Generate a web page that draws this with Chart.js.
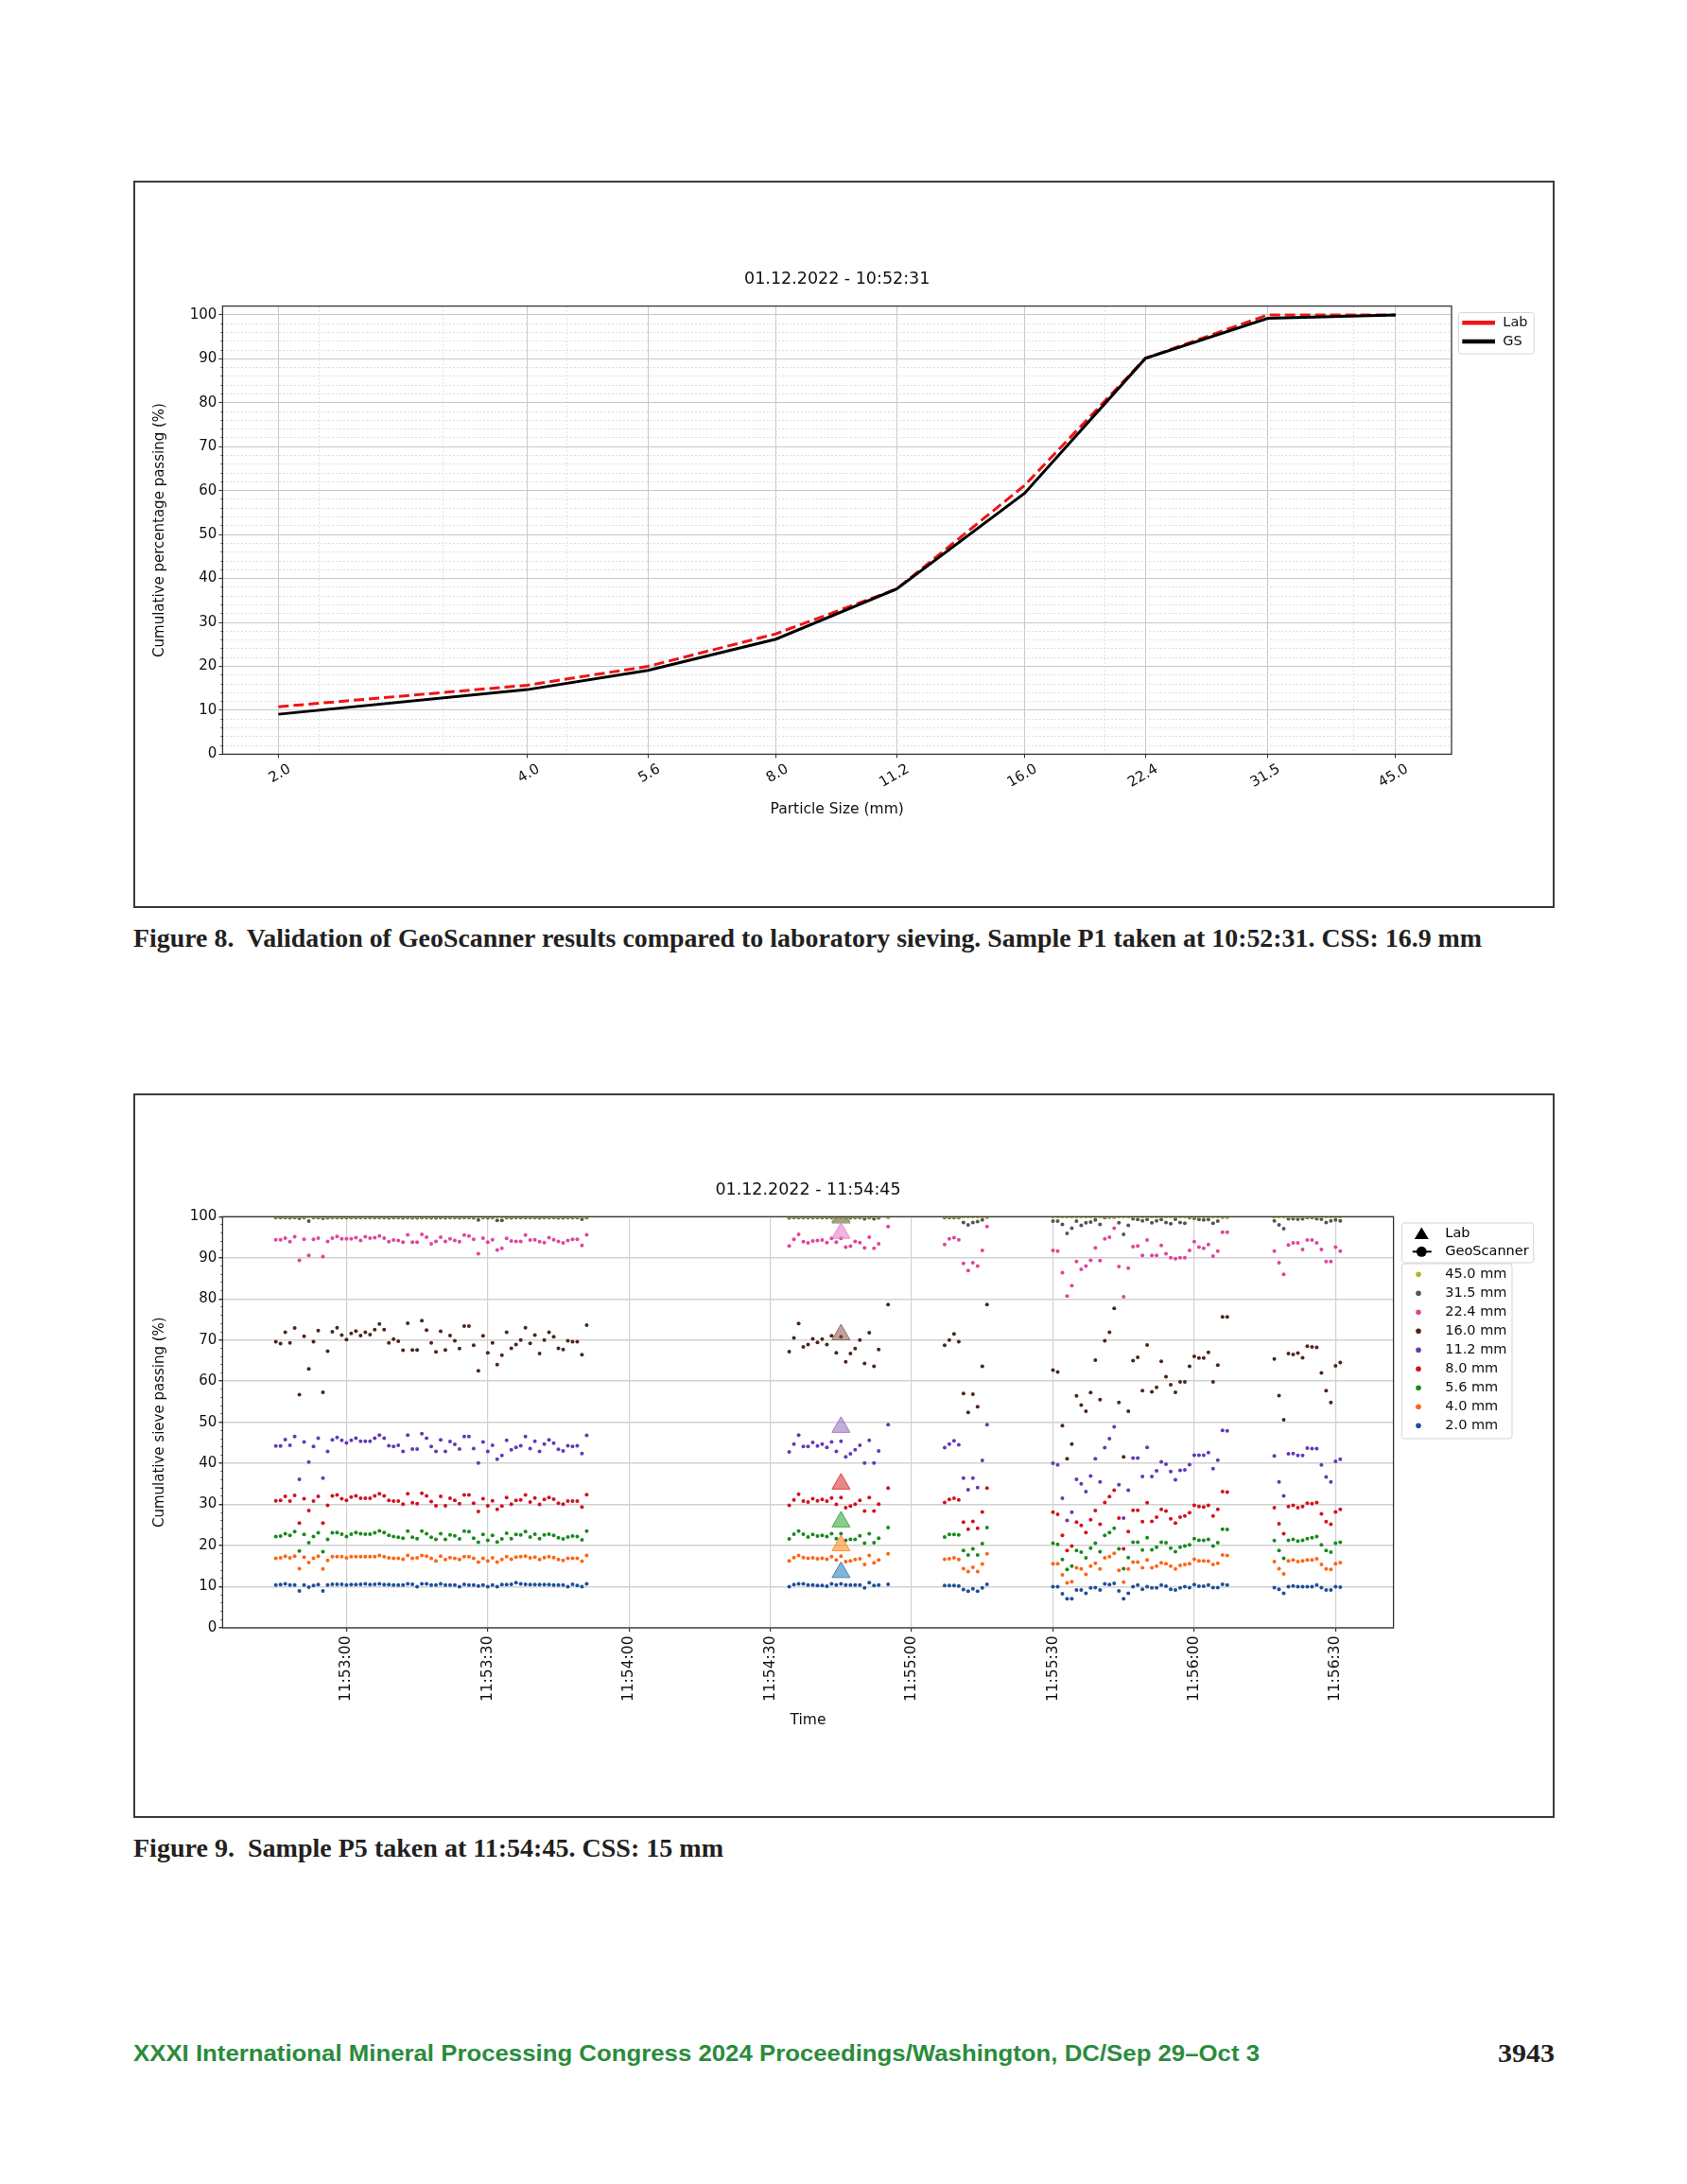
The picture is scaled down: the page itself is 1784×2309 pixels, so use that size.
<!DOCTYPE html>
<html>
<head>
<meta charset="utf-8">
<script src="https://cdn.jsdelivr.net/npm/chart.js@4.4.1/dist/chart.umd.min.js"></script>
<style>
  body { margin: 0; background: #fff; width: 1784px; height: 2309px; position: relative; overflow: hidden; }
  .frame { position: absolute; left: 141px; width: 1499px; border: 2px solid #3a3a3a; }
  #frame8 { top: 191px; height: 765px; }
  #frame9 { top: 1156px; height: 762px; }
  canvas { position: absolute; }
  .cap { position: absolute; white-space: pre; transform-origin: 0 0; color: #231f20;
         font-family: "Liberation Serif", "DejaVu Serif", serif; font-weight: bold; font-size: 27px; line-height: 30px; }
  .foot { position: absolute; white-space: pre; transform-origin: 0 0; color: #2a8c3c;
          font-family: "Liberation Sans Narrow", "Liberation Sans", sans-serif; font-weight: bold; font-size: 24px; line-height: 28px; }
</style>
</head>
<body>
<div class="frame" id="frame8"></div>
<div class="frame" id="frame9"></div>
<canvas id="fig8" width="1499" height="765" style="left:143px;top:193px"></canvas>
<canvas id="fig9" width="1499" height="762" style="left:143px;top:1158px"></canvas>

<div class="cap" style="left:141px;top:977px" data-w="1426">Figure 8.  Validation of GeoScanner results compared to laboratory sieving. Sample P1 taken at 10:52:31. CSS: 16.9 mm</div>
<div class="cap" style="left:141px;top:1939px" data-w="624">Figure 9.  Sample P5 taken at 11:54:45. CSS: 15 mm</div>
<div class="foot" style="left:141px;top:2157px" data-w="1191">XXXI International Mineral Processing Congress 2024 Proceedings/Washington, DC/Sep 29–Oct 3</div>
<div class="cap" style="left:1584px;top:2156px" data-w="60">3943</div>

<script>
// ---------- Figure 8: sieve curve ----------
const sieveSizes = [2.0, 4.0, 5.6, 8.0, 11.2, 16.0, 22.4, 31.5, 45.0];
const sieveLabels = ['2.0', '4.0', '5.6', '8.0', '11.2', '16.0', '22.4', '31.5', '45.0'];
const labPassing = [10.8, 15.7, 20.0, 27.4, 37.6, 61.2, 90.1, 100.0, 100.0];
const gsPassing = [9.1, 14.7, 19.1, 26.2, 37.6, 59.4, 90.1, 99.2, 100.0];
const passTicks = [0, 10, 20, 30, 40, 50, 60, 70, 80, 90, 100];

// ---------- Figure 9: GeoScanner time series ----------
const sieveNames = ['45.0 mm', '31.5 mm', '22.4 mm', '16.0 mm', '11.2 mm', '8.0 mm', '5.6 mm', '4.0 mm', '2.0 mm'];
const timeTicks = ['11:53:00', '11:53:30', '11:54:00', '11:54:30', '11:55:00', '11:55:30', '11:56:00', '11:56:30'];
const labTime = '11:54:45';
const labValues = [100.0, 99.7, 96.0, 71.3, 48.8, 35.0, 25.8, 20.0, 13.5];

const times = [
  '11:52:45','11:52:46','11:52:47','11:52:48','11:52:49','11:52:50','11:52:51','11:52:52','11:52:53','11:52:54',
  '11:52:55','11:52:56','11:52:57','11:52:58','11:52:59','11:53:00','11:53:01','11:53:02','11:53:03','11:53:04',
  '11:53:05','11:53:06','11:53:07','11:53:08','11:53:09','11:53:10','11:53:11','11:53:12','11:53:13','11:53:14',
  '11:53:15','11:53:16','11:53:17','11:53:18','11:53:19','11:53:20','11:53:21','11:53:22','11:53:23','11:53:24',
  '11:53:25','11:53:26','11:53:27','11:53:28','11:53:29','11:53:30','11:53:31','11:53:32','11:53:33','11:53:34',
  '11:53:35','11:53:36','11:53:37','11:53:38','11:53:39','11:53:40','11:53:41','11:53:42','11:53:43','11:53:44',
  '11:53:45','11:53:46','11:53:47','11:53:48','11:53:49','11:53:50','11:53:51',
  '11:54:34','11:54:35','11:54:36','11:54:37','11:54:38','11:54:39','11:54:40','11:54:41','11:54:42','11:54:43',
  '11:54:44','11:54:45','11:54:46','11:54:47','11:54:48','11:54:49','11:54:50','11:54:51','11:54:52','11:54:53','11:54:55',
  '11:55:07','11:55:08','11:55:09','11:55:10','11:55:11','11:55:12','11:55:13','11:55:14','11:55:15','11:55:16',
  '11:55:30','11:55:31','11:55:32','11:55:33','11:55:34','11:55:35','11:55:36','11:55:37','11:55:38','11:55:39',
  '11:55:40','11:55:41','11:55:42','11:55:43','11:55:44','11:55:45','11:55:46','11:55:47','11:55:48','11:55:49',
  '11:55:50','11:55:51','11:55:52','11:55:53','11:55:54','11:55:55','11:55:56','11:55:57','11:55:58','11:55:59',
  '11:56:00','11:56:01','11:56:02','11:56:03','11:56:04','11:56:05','11:56:06','11:56:07',
  '11:56:17','11:56:18','11:56:19','11:56:20','11:56:21','11:56:22','11:56:23','11:56:24','11:56:25','11:56:26',
  '11:56:27','11:56:28','11:56:29','11:56:30','11:56:31'
];

const p450 = [
  100,100,100,100,100,100,100,100,100,100, 100,100,100,100,100,100,100,100,100,100,
  100,100,100,100,100,100,100,100,100,100, 100,100,100,100,100,100,100,100,100,100,
  100,100,100,100,100,100,100,100,100,100, 100,100,100,100,100,100,100,100,100,100,
  100,100,100,100,100,100,100,
  100,100,100,100,100,100,100,100,100,100, 100,100,100,100,100,100,100,100,100,100,100,
  100,100,100,100,100,100,100,100,100,100,
  100,100,100,100,100,100,100,100,100,100, 100,100,100,100,100,100,100,100,100,100,
  100,100,100,100,100,100,100,100,100,100, 100,100,100,100,100,100,100,100,
  100,100,100,100,100,100,100,100,100,100, 100,100,100,100,100
];
const p315 = [
  99.8,99.8,99.8,99.7,99.8,99.6,99.8,98.9,99.8,99.8, 99.6,99.7,99.8,99.8,99.8,99.8,99.8,99.8,99.8,99.8,
  99.8,99.8,99.8,99.8,99.7,99.8,99.8,99.7,99.8,99.7, 99.7,99.8,99.8,99.7,99.7,99.8,99.7,99.8,99.8,99.7,
  99.8,99.8,99.7,99.2,99.8,99.7,99.8,99.1,99.1,99.8, 99.7,99.8,99.8,99.8,99.8,99.8,99.7,99.8,99.8,99.8,
  99.7,99.7,99.8,99.8,99.8,99.4,99.8,
  99.7,99.8,99.8,99.8,99.8,99.8,99.8,99.8,99.8,99.8, 99.7,99.8,99.6,99.7,99.8,99.8,99.5,99.8,99.5,99.7,99.9,
  99.8,99.8,99.8,99.8,98.6,98.0,98.6,98.8,99.2,99.9,
  98.9,98.9,98.1,95.9,97.2,98.9,97.9,98.5,98.7,99.2, 98.1,99.8,99.9,99.9,98.5,95.7,97.9,99.5,99.3,99.0,
  99.3,98.5,99.0,99.3,98.6,98.3,99.4,98.6,98.4,99.8, 99.6,99.3,99.2,99.3,98.4,98.9,99.9,99.9,
  99.0,98.0,97.1,99.5,99.5,99.4,99.5,99.8,99.8,99.5, 99.4,98.6,99.0,99.2,99.0
];
const p224 = [
  94.4,94.4,94.8,93.9,95.1,89.4,94.5,90.6,94.5,94.8, 90.3,94.0,94.8,95.2,94.6,94.6,94.6,94.9,94.2,95.1,
  94.8,94.9,95.3,94.8,93.9,94.3,94.2,93.8,95.6,93.8, 93.8,95.7,95.0,93.4,94.0,95.0,94.0,94.6,94.2,93.9,
  95.5,95.3,94.5,91.0,94.8,93.8,94.4,91.9,92.3,94.7, 94.1,94.0,94.0,95.5,94.3,94.4,93.9,93.7,94.9,94.4,
  94.0,93.6,94.2,94.5,94.5,93.0,95.6,
  92.9,94.5,95.7,93.9,93.6,94.1,94.2,94.3,93.7,94.7, 93.8,94.7,92.6,92.8,94.0,93.7,92.4,95.0,92.3,93.4,97.6,
  93.2,94.6,94.9,94.4,88.6,86.9,88.8,88.0,91.8,97.6,
  91.8,91.6,86.4,80.7,83.2,89.1,87.2,88.0,89.4,92.4, 89.3,94.6,95.0,97.2,87.9,80.5,87.5,92.7,92.9,90.6,
  94.3,90.6,90.6,93.0,91.0,90.0,89.8,90.0,90.0,91.8, 93.9,92.6,92.3,93.2,90.4,91.6,96.2,96.2,
  91.6,88.8,86.0,93.1,93.6,93.6,92.0,94.3,94.3,93.6, 92.0,89.1,89.1,92.6,91.6
];
const p160 = [
  69.6,69.1,71.9,69.3,72.9,56.7,70.9,63.0,69.6,72.3, 57.3,67.3,72.0,73.0,71.2,70.1,71.6,72.2,71.1,71.9,
  71.3,72.5,73.9,72.5,69.3,70.2,69.7,67.5,74.1,67.6, 67.6,74.7,72.4,69.3,67.1,72.1,67.6,71.1,69.8,67.9,
  73.4,73.4,68.7,62.5,71.0,66.9,69.3,64.0,66.3,71.9, 68.0,68.9,70.0,73.0,69.2,71.2,66.7,70.0,71.9,70.8,
  68.0,67.7,69.8,69.6,69.6,66.4,73.6,
  67.2,70.5,74.0,68.3,68.9,70.3,69.4,70.2,68.9,71.0, 66.9,70.8,64.7,66.7,67.9,70.0,64.3,71.8,63.6,67.7,78.6,
  68.7,70.0,71.5,69.6,57.0,52.4,56.8,53.8,63.6,78.6,
  62.7,62.2,49.2,41.1,44.7,56.4,54.2,52.7,57.2,65.1, 55.5,69.8,71.9,77.7,54.8,41.6,52.7,65.0,65.8,57.7,
  68.8,57.4,58.5,64.8,61.1,59.1,57.3,59.8,59.8,63.6, 66.0,65.6,65.6,67.0,59.8,63.9,75.6,75.6,
  65.4,56.5,50.6,66.7,66.5,66.8,65.7,68.5,68.3,68.2, 62.0,57.7,54.8,63.7,64.5
];
const p112 = [
  44.2,44.2,45.8,44.4,46.5,36.1,45.2,40.3,44.1,46.1, 36.4,42.9,45.7,46.3,45.6,45.0,45.6,46.1,45.4,45.4,
  45.4,46.1,46.9,46.1,44.3,44.1,44.4,42.9,46.9,43.5, 43.5,47.2,46.1,44.1,42.9,45.7,42.9,45.3,44.6,43.5,
  46.5,46.5,43.6,40.1,45.2,42.9,44.4,41.0,41.9,45.6, 43.3,43.9,44.3,46.5,43.6,45.4,42.9,44.7,45.7,44.9,
  43.4,43.0,44.3,44.1,44.3,42.4,46.8,
  42.8,44.7,46.9,44.1,44.1,45.1,44.2,44.7,43.9,45.2, 42.9,45.4,41.6,42.3,43.3,44.4,40.1,45.6,40.1,43.0,49.4,
  43.8,44.7,45.5,44.5,36.4,33.6,36.4,34.1,40.7,49.4,
  40.0,39.6,31.5,26.1,28.1,36.1,35.0,33.1,36.9,41.1, 35.5,43.8,46.0,48.9,34.8,26.7,33.5,41.3,41.3,36.8,
  43.9,36.8,38.2,40.4,39.8,38.0,36.0,38.3,38.4,39.7, 42.0,42.0,42.0,42.6,38.7,40.8,48.0,47.9,
  41.8,35.5,32.1,42.3,42.4,41.9,41.9,43.7,43.6,43.6, 39.6,36.7,35.5,40.5,41.0
];
const p80 = [
  30.9,31.0,32.0,30.8,32.2,25.5,31.4,28.5,30.8,32.0, 25.5,29.8,32.1,32.3,31.4,31.0,31.8,32.1,31.5,31.5,
  31.5,32.1,32.6,32.1,31.0,30.8,30.8,30.1,32.6,30.4, 30.2,32.7,32.1,30.7,29.7,32.0,29.7,31.5,31.0,30.2,
  32.3,32.3,30.3,28.3,31.4,29.7,30.9,28.8,29.6,31.7, 30.1,31.0,31.1,32.3,30.6,31.6,30.0,31.2,31.7,31.3,
  30.3,30.1,30.8,30.8,30.8,29.4,32.4,
  29.8,31.1,32.5,30.8,30.6,31.4,30.9,31.2,30.8,31.6, 30.0,31.7,29.2,29.6,30.1,31.0,28.4,31.7,28.4,30.1,34.0,
  30.5,31.2,31.5,31.1,25.7,24.0,25.9,24.2,28.2,34.0,
  28.1,27.6,22.5,18.8,19.9,25.7,24.9,23.2,26.3,28.5, 25.2,30.5,31.9,33.5,26.7,19.2,23.4,28.6,28.6,25.8,
  30.4,25.9,26.9,28.8,28.4,26.5,25.5,26.9,27.2,28.0, 29.8,29.5,29.4,29.8,27.2,28.8,33.1,33.0,
  29.2,25.3,22.9,29.5,29.8,29.2,29.5,30.3,30.2,30.5, 27.7,25.8,25.2,28.2,28.8
];
const p56 = [
  22.2,22.3,22.9,22.5,23.4,18.7,22.7,20.7,22.2,23.1, 18.5,21.5,23.1,23.2,22.8,22.2,22.8,23.2,22.9,22.8,
  22.8,23.1,23.6,23.2,22.5,22.2,22.0,21.8,23.5,22.0, 21.7,23.5,22.9,22.0,21.5,22.9,21.5,22.6,22.4,21.6,
  23.5,23.4,21.8,20.8,22.7,21.3,22.5,20.9,21.6,23.0, 21.7,22.7,22.6,23.4,22.1,22.8,21.7,22.6,22.8,22.5,
  21.9,21.6,22.1,22.3,22.2,21.4,23.5,
  21.6,22.8,23.5,22.8,22.1,22.7,22.3,22.5,22.2,22.9, 21.7,22.9,21.3,21.5,21.5,22.4,20.6,22.9,20.7,21.8,24.4,
  22.1,22.7,22.7,22.6,18.8,17.7,19.2,17.7,20.5,24.4,
  20.6,20.3,16.6,14.2,15.0,18.8,18.4,17.0,19.4,20.6, 18.5,22.5,23.2,24.2,19.2,14.4,17.1,20.8,20.8,18.9,
  21.9,19.0,19.6,20.8,20.7,19.4,18.5,19.6,19.9,20.2, 21.7,21.3,21.3,21.5,19.9,20.7,24.0,23.9,
  21.2,18.8,16.9,21.3,21.5,21.1,21.3,21.7,21.9,22.2, 20.2,18.8,18.4,20.6,20.8
];
const p40 = [
  16.9,17.0,17.4,17.0,17.4,14.4,17.2,15.9,16.9,17.4, 14.3,16.4,17.3,17.3,17.3,17.0,17.3,17.3,17.3,17.3,
  17.3,17.3,17.6,17.3,17.0,16.9,16.9,16.7,17.6,16.9, 17.0,17.6,17.4,16.9,16.3,17.4,16.6,17.1,16.9,16.6,
  17.3,17.3,16.9,16.0,16.9,16.3,17.0,16.0,16.6,17.3, 16.7,17.2,17.3,17.4,17.0,17.2,16.6,17.1,17.3,17.1,
  16.6,16.4,16.9,16.9,16.9,16.2,17.6,
  16.3,17.1,17.6,17.1,16.9,17.0,16.8,16.9,16.7,17.3, 16.5,17.4,16.1,16.3,16.6,16.8,15.4,17.6,15.8,16.5,18.0,
  16.7,16.8,17.0,16.6,14.4,13.7,14.7,13.7,15.5,18.0,
  15.6,15.6,12.9,10.9,11.2,14.6,14.3,13.0,15.0,15.7, 14.3,17.0,17.3,18.1,14.0,11.1,14.3,16.0,16.0,14.6,
  16.5,14.6,15.0,15.8,15.6,15.0,14.3,15.2,15.4,15.6, 16.7,16.3,16.3,16.2,15.4,15.7,17.7,17.6,
  16.1,14.4,13.1,16.3,16.5,16.1,16.3,16.5,16.5,16.8, 15.4,14.3,14.2,15.6,15.9
];
const p20 = [
  10.4,10.5,10.7,10.4,10.4,9.0,10.4,9.9,10.3,10.5, 9.0,10.4,10.6,10.6,10.6,10.4,10.5,10.5,10.6,10.7,
  10.5,10.6,10.7,10.5,10.5,10.4,10.4,10.4,10.7,10.6, 10.0,10.7,10.7,10.4,10.4,10.7,10.4,10.4,10.4,10.0,
  10.6,10.4,10.4,10.2,10.4,10.0,10.4,10.0,10.5,10.5, 10.6,11.0,10.7,10.6,10.5,10.5,10.5,10.5,10.5,10.4,
  10.4,10.4,10.0,10.6,10.3,10.0,10.7,
  10.0,10.5,10.7,10.7,10.4,10.4,10.3,10.3,10.1,10.7, 10.4,10.7,10.4,10.4,10.4,10.4,9.7,11.0,10.3,10.4,10.6,
  10.3,10.3,10.3,10.2,9.3,8.9,9.5,8.9,9.7,10.6,
  10.0,10.0,8.3,7.1,7.1,9.2,9.2,8.4,9.7,9.8, 9.2,10.7,10.5,10.8,9.0,7.1,8.4,10.0,10.4,9.4,
  10.0,9.7,9.7,10.4,10.1,9.4,9.2,9.7,10.0,9.8, 10.5,10.1,10.1,10.4,9.8,9.8,10.6,10.4,
  9.8,9.4,8.4,10.0,10.2,10.0,10.0,10.0,10.0,10.4, 9.8,9.2,9.2,10.0,9.9
];
const sieveSeries = [p450, p315, p224, p160, p112, p80, p56, p40, p20];

// ---------- styling ----------
const FONT = '"DejaVu Sans", sans-serif';
Chart.defaults.font.family = FONT;
Chart.defaults.color = '#111';
const dotColors = ['#b5b52a', '#555555', '#e0449c', '#4e2519', '#6438b4', '#d3111e', '#188a1b', '#ff6413', '#1d4f9c'];
const tab10 = ['188,189,34', '127,127,127', '227,119,194', '140,86,75', '148,103,189', '214,39,40', '44,160,44', '255,127,14', '31,119,180'];
const toSec = t => { const [h, m, s] = t.split(':').map(Number); return h * 3600 + m * 60 + s; };

const spines = {
  id: 'spines',
  afterDatasetsDraw(chart) {
    const { ctx, chartArea: a } = chart;
    ctx.save();
    ctx.strokeStyle = '#333';
    ctx.lineWidth = 1.3;
    ctx.strokeRect(a.left, a.top, a.right - a.left, a.bottom - a.top);
    ctx.restore();
  }
};

function legendBox(ctx, x, y, w, h) {
  ctx.beginPath();
  ctx.roundRect(x, y, w, h, 3);
  ctx.fillStyle = 'rgba(255,255,255,0.85)';
  ctx.fill();
  ctx.strokeStyle = '#d4d4d4';
  ctx.lineWidth = 1;
  ctx.stroke();
}

const sieveLegend = {
  id: 'sieveLegend',
  afterDraw(chart) {
    const { ctx, chartArea: a } = chart;
    const x = a.right + 7.3, y = a.top + 6.9;
    ctx.save();
    legendBox(ctx, x, y, 80, 43.6);
    ctx.font = '14.5px ' + FONT;
    ctx.textBaseline = 'middle';
    chart.data.datasets.forEach((ds, i) => {
      const yy = y + 10.7 + i * 19.9;
      ctx.strokeStyle = ds.borderColor;
      ctx.lineWidth = 4.5;
      ctx.beginPath(); ctx.moveTo(x + 4, yy); ctx.lineTo(x + 38.7, yy); ctx.stroke();
      ctx.fillStyle = '#111';
      ctx.fillText(ds.label, x + 47, yy);
    });
    ctx.restore();
  }
};

const timeLegend = {
  id: 'timeLegend',
  afterDraw(chart) {
    const { ctx, chartArea: a } = chart;
    const x = a.right + 8.7, y = a.top + 6.7;
    ctx.save();
    ctx.font = '14.5px ' + FONT;
    ctx.textBaseline = 'middle';
    // marker-type box
    legendBox(ctx, x, y, 139.4, 42);
    ctx.fillStyle = '#000';
    ctx.beginPath();
    ctx.moveTo(x + 21, y + 4.5); ctx.lineTo(x + 28.5, y + 17); ctx.lineTo(x + 13.5, y + 17); ctx.closePath(); ctx.fill();
    ctx.fillText('Lab', x + 46, y + 11.3);
    ctx.strokeStyle = '#000'; ctx.lineWidth = 2;
    ctx.beginPath(); ctx.moveTo(x + 11.5, y + 30.3); ctx.lineTo(x + 31.5, y + 30.3); ctx.stroke();
    ctx.beginPath(); ctx.arc(x + 21, y + 30.3, 5.5, 0, Math.PI * 2); ctx.fill();
    ctx.fillText('GeoScanner', x + 46, y + 30.3);
    // sieve box
    const y2 = y + 43;
    legendBox(ctx, x, y2, 116.7, 185);
    sieveNames.forEach((name, i) => {
      const yy = y2 + 11.3 + i * 20;
      ctx.fillStyle = dotColors[i];
      ctx.beginPath(); ctx.arc(x + 17.7, yy, 2.8, 0, Math.PI * 2); ctx.fill();
      ctx.fillStyle = '#111';
      ctx.fillText(name, x + 46, yy);
    });
    ctx.restore();
  }
};

// ---------- Figure 8 chart ----------
new Chart(document.getElementById('fig8'), {
  type: 'line',
  data: {
    datasets: [
      { label: 'Lab', data: sieveSizes.map((x, i) => ({ x, y: labPassing[i] })),
        borderColor: '#f01414', borderWidth: 3, borderDash: [11, 5], pointRadius: 0, tension: 0, order: 1 },
      { label: 'GS', data: sieveSizes.map((x, i) => ({ x, y: gsPassing[i] })),
        borderColor: '#000000', borderWidth: 3, pointRadius: 0, tension: 0, order: 0 }
    ]
  },
  options: {
    responsive: false, animation: false, events: [],
    layout: { padding: { left: 0, top: 0, right: 107, bottom: 0 } },
    plugins: {
      legend: { display: false }, tooltip: { enabled: false },
      title: { display: true, text: '01.12.2022 - 10:52:31', fullSize: false, color: '#111',
               font: { size: 17.5, weight: 'normal' }, padding: { top: 92.1, bottom: 17.5 } }
    },
    scales: {
      x: {
        type: 'logarithmic', position: 'bottom', min: 1.712, max: 52.57,
        afterBuildTicks: s => { s.ticks = sieveSizes.map(v => ({ value: v })); },
        afterFit: s => { s.height = 160.6; },
        ticks: { autoSkip: false, minRotation: 30, maxRotation: 30, labelOffset: 12, padding: 3,
                 font: { size: 15 }, callback: (v, i) => sieveLabels[i] },
        grid: { color: '#cacaca', lineWidth: 1, tickLength: 4, tickColor: '#333' },
        border: { display: false },
        title: { display: true, text: 'Particle Size (mm)', font: { size: 15.5 }, padding: { top: 0, bottom: 93.2 } }
      },
      xMinor: {
        type: 'logarithmic', position: 'top', weight: 0, min: 1.712, max: 52.57,
        afterBuildTicks: s => { s.ticks = [2.24, 3.16, 4.47, 20, 40].map(v => ({ value: v })); },
        afterFit: s => { s.height = 0; },
        ticks: { display: false },
        grid: { color: '#e2e2e2', lineWidth: 1, drawTicks: false },
        border: { display: false, dash: [2, 2] }
      },
      y: {
        type: 'linear', position: 'left', weight: 10, min: 0, max: 102,
        afterBuildTicks: s => { s.ticks = passTicks.map(v => ({ value: v })); },
        afterFit: s => { s.width = 92.4; },
        ticks: { padding: 2, font: { size: 15 } },
        grid: { color: '#c8c8c8', lineWidth: 1, tickLength: 4, tickColor: '#333' },
        border: { display: false },
        title: { display: true, text: 'Cumulative percentage passing (%)', font: { size: 15 }, padding: { top: 17.6, bottom: 0 } }
      },
      yMinor: {
        type: 'linear', position: 'left', weight: 0, min: 0, max: 102,
        afterBuildTicks: s => {
          const t = [];
          for (let v = 2; v < 102; v += 2) if (v % 10) t.push({ value: v });
          s.ticks = t;
        },
        afterFit: s => { s.width = 0; },
        ticks: { display: false },
        grid: { color: '#dedede', lineWidth: 1, tickLength: 2, tickColor: '#555' },
        border: { display: false, dash: [2, 2] }
      }
    }
  },
  plugins: [spines, sieveLegend]
});

// ---------- Figure 9 chart ----------
const labX = toSec(labTime);
const gsSets = sieveSeries.map((vals, k) => ({
  label: sieveNames[k],
  data: vals.map((y, i) => ({ x: toSec(times[i]), y })),
  pointRadius: 2.0, pointHoverRadius: 0, pointBorderWidth: 0,
  backgroundColor: dotColors[k], borderColor: dotColors[k],
  clip: 0, order: 1
}));
new Chart(document.getElementById('fig9'), {
  type: 'scatter',
  data: {
    datasets: [
      { label: 'Lab', data: labValues.map(y => ({ x: labX, y })),
        pointStyle: 'triangle', pointRadius: 11, pointHoverRadius: 0,
        backgroundColor: tab10.map(c => `rgba(${c},0.55)`), borderColor: tab10.map(c => `rgba(${c},0.8)`),
        borderWidth: 1, clip: 0, order: 0 },
      ...gsSets
    ]
  },
  options: {
    responsive: false, animation: false, events: [],
    layout: { padding: { left: 0, top: 0, right: 168.4, bottom: 0 } },
    plugins: {
      legend: { display: false }, tooltip: { enabled: false },
      title: { display: true, text: '01.12.2022 - 11:54:45', fullSize: false, color: '#111',
               font: { size: 17.5, weight: 'normal' }, padding: { top: 89.5, bottom: 17.8 } }
    },
    scales: {
      x: {
        type: 'linear', position: 'bottom', min: 42753.7, max: 43002.3,
        afterBuildTicks: s => { s.ticks = timeTicks.map(t => ({ value: toSec(t) })); },
        afterFit: s => { s.height = 199; },
        ticks: { autoSkip: false, minRotation: 90, maxRotation: 90, padding: 4.5,
                 font: { size: 15.5 }, callback: (v, i) => timeTicks[i] },
        grid: { color: '#d2d2d2', lineWidth: 1.2, tickLength: 4, tickColor: '#333' },
        border: { display: false },
        title: { display: true, text: 'Time', font: { size: 15.5 }, padding: { top: 0, bottom: 91.7 } }
      },
      y: {
        type: 'linear', position: 'left', weight: 10, min: 0, max: 100,
        afterBuildTicks: s => { s.ticks = passTicks.map(v => ({ value: v })); },
        afterFit: s => { s.width = 92.4; },
        ticks: { padding: 2, font: { size: 15 } },
        grid: { color: '#d2d2d2', lineWidth: 1.4, tickLength: 4, tickColor: '#333' },
        border: { display: false },
        title: { display: true, text: 'Cumulative sieve passing (%)', font: { size: 15 }, padding: { top: 17.6, bottom: 0 } }
      },
      yMinor: {
        type: 'linear', position: 'left', weight: 0, min: 0, max: 100,
        afterBuildTicks: s => {
          const t = [];
          for (let v = 2; v < 100; v += 2) if (v % 10) t.push({ value: v });
          s.ticks = t;
        },
        afterFit: s => { s.width = 0; },
        ticks: { display: false },
        grid: { drawOnChartArea: false, tickLength: 2, tickColor: '#555' },
        border: { display: false }
      }
    }
  },
  plugins: [spines, timeLegend]
});

// fit caption / footer widths to the page layout
document.querySelectorAll('[data-w]').forEach(el => {
  const w = el.getBoundingClientRect().width;
  el.style.transform = `scaleX(${(+el.dataset.w / w).toFixed(4)})`;
});
</script>
</body>
</html>
